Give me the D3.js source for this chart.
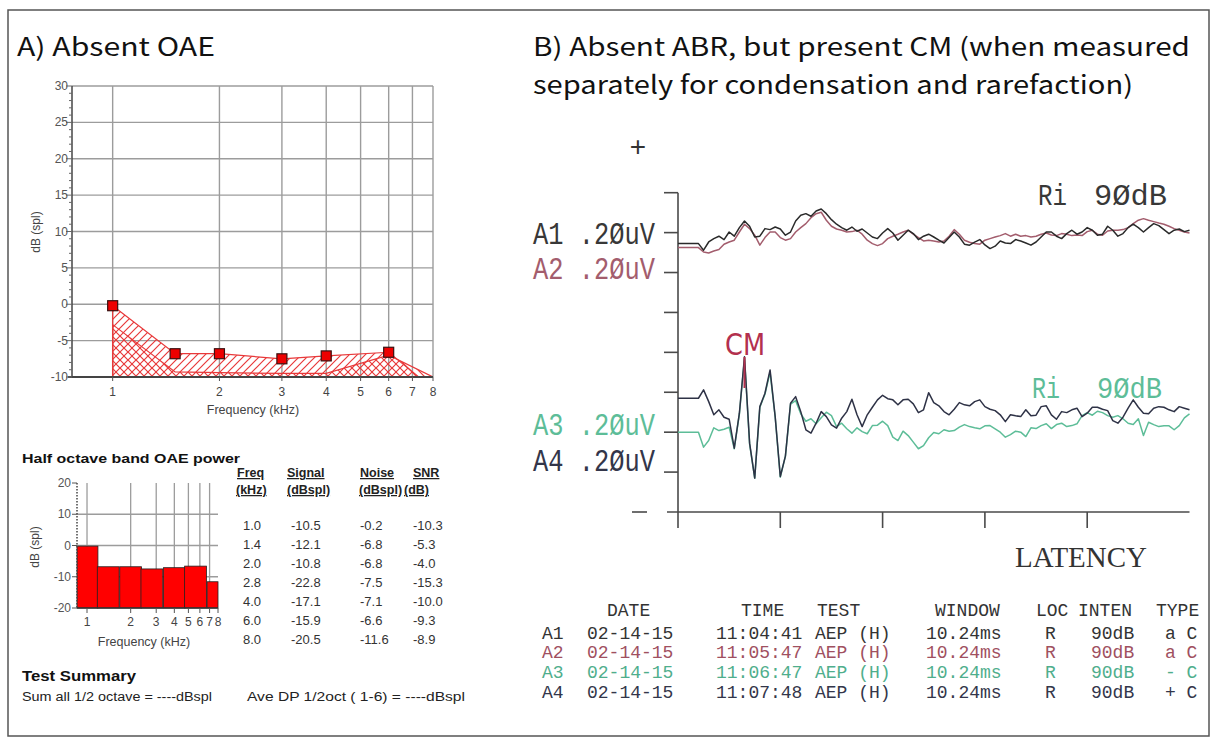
<!DOCTYPE html>
<html>
<head>
<meta charset="utf-8">
<script src="https://cdn.jsdelivr.net/npm/d3@7"></script>
<style>
body{margin:0;background:#fff;overflow:hidden;}
svg{display:block;}
</style>
</head>
<body>
<script>

// ---- A) OAE data ----
var dpFreq   = [1, 1.5, 2, 3, 4, 6, 8];
var dpNoise  = [-0.2, -6.8, -6.8, -7.5, -7.1, -6.6, -11.6];
var dpFloor  = [-2.8, -9.3, -9.4, -9.5, -9.5, -7.0, -10];
var topXTicks = [1, 2, 3, 4, 5, 6, 7, 8];
var topYTicks = [30, 25, 20, 15, 10, 5, 0, -5, -10];

var bandCenter = [1, 1.4, 2, 2.8, 4, 5.6, 8];
var bandNoise  = [-0.2, -6.8, -6.8, -7.5, -7.1, -6.6, -11.6];
var bandXTicks = [1, 2, 3, 4, 5, 6, 7, 8];
var bandYTicks = [20, 10, 0, -10, -20];

var tabFreq   = ["1.0", "1.4", "2.0", "2.8", "4.0", "6.0", "8.0"];
var tabSignal = ["-10.5", "-12.1", "-10.8", "-22.8", "-17.1", "-15.9", "-20.5"];
var tabNoise  = ["-0.2", "-6.8", "-6.8", "-7.5", "-7.1", "-6.6", "-11.6"];
var tabSnr    = ["-10.3", "-5.3", "-4.0", "-15.3", "-10.0", "-9.3", "-8.9"];

// ---- B) ABR traces, uV from each trace baseline, one sample every 0.1024 ms ----
var sampleMs = 0.1024;
var a1 = [0,0,0,0,0, -0.033,0.008,0.025,0.037,0.02, 0.058,0.037,0.08,0.113,0.087, 0.033,0.037,0.075,0.07,0.083,
  0.073,0.042,0.058,0.113,0.142, 0.15,0.137,0.163,0.173,0.15, 0.12,0.097,0.08,0.067,0.083, 0.062,0.073,0.053,0.033,0.025,
  0.053,0.075,0.053,0.017,0.042, 0.067,0.05,0.02,0.037,0.047, 0.033,0.017,0.003,0.03,0.058, 0.033,-0.003,-0.008,0.007,0.02,
  -0.007,-0.025,-0.013,0.013,0.003, 0,0.02,0.013,0.003,-0.008, 0.008,0.033,0.058,0.058,0.037, 0.025,0.05,0.067,0.047,0.058,
  0.08,0.067,0.042,0.047,0.087, 0.067,0.037,0.05,0.08,0.097, 0.08,0.058,0.08,0.1,0.09, 0.07,0.05,0.067,0.073,0.06, 0.067];
var a2 = [0,0,0,0,0, -0.022,-0.027,-0.017,-0.01,0.017, 0.028,0.037,0.078,0.117,0.095, 0.062,0.012,0.05,0.078,0.078,
  0.05,0.037,0.045,0.078,0.1, 0.12,0.15,0.17,0.177,0.137, 0.107,0.093,0.087,0.078,0.08, 0.087,0.067,0.037,0.02,0.01,
  0.02,0.045,0.057,0.067,0.078, 0.087,0.067,0.05,0.033,0.037, 0.033,0.028,0.033,0.057,0.09, 0.067,0.037,0.027,0.02,0.017,
  0.037,0.045,0.053,0.06,0.07, 0.057,0.067,0.057,0.06,0.053, 0.057,0.067,0.073,0.063,0.06, 0.07,0.067,0.06,0.063,0.06,
  0.08,0.087,0.067,0.062,0.083, 0.087,0.087,0.09,0.1,0.12, 0.137,0.145,0.137,0.13,0.123, 0.117,0.107,0.095,0.087,0.078, 0.073];
var a3 = [0,0,0,0,0, -0.075,-0.042,0.022,0.008,0.015, 0.025,-0.083,0.09,0.37,-0.06, -0.23,0.125,0.19,0.30,0.075,
  -0.225,-0.12,0.14,0.158,0.092, 0.055,0.067,0.042,0.072,0.1, 0.083,0.028,0.045,0.017,-0.005, 0.022,0.003,-0.008,0.033,0.035,
  0.055,0.033,-0.025,-0.042,0.005, -0.017,-0.05,-0.083,-0.067,-0.028, -0.002,-0.008,0.012,0.005,0.008, 0.025,0.038,0.028,0.022,0.017,
  0.032,0.033,0.017,0,-0.025, -0.012,0.005,0,-0.022,0.022, 0.018,0.033,0.042,0.018,0.038, 0.045,0.028,0.033,0.042,0.083,
  0.098,0.085,0.105,0.098,0.083, 0.075,0.083,0.067,0.045,0.038, 0.067,-0.017,0.05,0.038,0.028, 0.032,0.032,0.012,0.033,0.072, 0.092];
var a4 = [0,0,0,0,0, 0.042,-0.017,-0.083,-0.058,-0.095, -0.105,-0.25,-0.075,0.208,-0.225, -0.4,-0.042,0.025,0.142,-0.092,
  -0.392,-0.29,-0.025,0.008,-0.067, -0.158,-0.175,-0.125,-0.067,-0.092, -0.133,-0.15,-0.1,-0.067,-0.005, -0.083,-0.142,-0.083,-0.045,-0.008,
  0.015,-0.002,-0.008,-0.033,-0.008, -0.005,-0.028,-0.072,-0.058,0.028, -0.022,-0.038,-0.067,-0.083,-0.055, -0.022,-0.033,-0.038,-0.017,-0.008,
  -0.042,-0.055,-0.062,-0.083,-0.117, -0.083,-0.088,-0.092,-0.058,-0.088, -0.085,-0.042,-0.038,-0.083,-0.105, -0.067,-0.072,-0.058,-0.05,-0.092,
  -0.075,-0.045,-0.045,-0.055,-0.062, -0.112,-0.125,-0.095,-0.05,-0.008, -0.045,-0.075,-0.078,-0.05,-0.042, -0.045,-0.058,-0.067,-0.042,-0.05, -0.058];
var abrYTicks = [0.2, 0.4, 0.6, 0.8, 1.0, 1.2, 1.4, 1.6];
var abrXTicks = [2.048, 4.096, 6.144, 8.192];

var recName   = ["A1", "A2", "A3", "A4"];
var recDate   = ["02-14-15", "02-14-15", "02-14-15", "02-14-15"];
var recTime   = ["11:04:41", "11:05:47", "11:06:47", "11:07:48"];
var recTest   = ["AEP (H)", "AEP (H)", "AEP (H)", "AEP (H)"];
var recWindow = ["10.24ms", "10.24ms", "10.24ms", "10.24ms"];
var recLoc    = ["R", "R", "R", "R"];
var recInten  = ["90dB", "90dB", "90dB", "90dB"];
var recType   = ["a C", "a C", "- C", "+ C"];


var svg = d3.select("body").append("svg").attr("width", 1216).attr("height", 737);
var defs = svg.append("defs");
var sans = "'Liberation Sans', Arial, sans-serif";
var mono = "'Liberation Mono', 'DejaVu Sans Mono', monospace";
var kr = "'Noto Sans CJK KR', 'Noto Sans', sans-serif";
var red = "#e8393a";
var grid = "#9c9c9c";

function txt(x, y, s, o) {
  o = o || {};
  var t = svg.append("text").attr("x", x).attr("y", y)
    .attr("font-family", o.font || sans).attr("font-size", o.size || 12)
    .attr("fill", o.fill || "#333").attr("text-anchor", o.anchor || "start").text(s);
  if (o.bold) t.attr("font-weight", "bold");
  if (o.under) t.attr("text-decoration", "underline");
  if (o.w) t.attr("textLength", o.w).attr("lengthAdjust", "spacingAndGlyphs");
  return t;
}

// plotter lettering: narrow and tall
function plot(x, y, s, fill, w, size, sy) {
  svg.append("text").attr("transform", "translate(" + x + "," + y + ") scale(1," + sy + ")")
    .attr("font-family", mono).attr("font-size", size).attr("fill", fill)
    .attr("textLength", w).attr("lengthAdjust", "spacingAndGlyphs").text(s);
}

function hatch(id, d) {
  var p = defs.append("pattern").attr("id", id).attr("patternUnits", "userSpaceOnUse")
    .attr("width", 8).attr("height", 8);
  p.append("path").attr("d", d).attr("stroke", red).attr("stroke-width", 1.2);
}
hatch("hr", "M0,8 L8,0 M-1,1 L1,-1 M7,9 L9,7");
hatch("hl", "M0,0 L8,8 M-1,7 L1,9 M7,-1 L9,1");

// outer frame
svg.append("rect").attr("x", 8).attr("y", 10).attr("width", 1201).attr("height", 726)
  .attr("fill", "none").attr("stroke", "#555").attr("stroke-width", 1.5);

txt(17, 56, "A) Absent OAE", {font: kr, size: 25, fill: "#111", w: 198});
txt(533, 56, "B) Absent ABR, but present CM (when measured", {font: kr, size: 25, fill: "#111", w: 657});
txt(533, 94, "separately for condensation and rarefaction)", {font: kr, size: 25, fill: "#111", w: 600});


// ================= DP-gram =================
var x1 = d3.scaleLog().domain([0.768, 8]).range([72, 433]);
var y1 = d3.scaleLinear().domain([-10, 30]).range([377, 86]);

svg.selectAll(".vg1").data(topXTicks).enter().append("line")
  .attr("x1", function(d){return x1(d);}).attr("x2", function(d){return x1(d);})
  .attr("y1", y1(30)).attr("y2", y1(-10)).attr("stroke", grid).attr("stroke-width", 1.4);
svg.selectAll(".hg1").data(topYTicks).enter().append("line")
  .attr("x1", x1.range()[0]).attr("x2", x1.range()[1])
  .attr("y1", function(d){return y1(d);}).attr("y2", function(d){return y1(d);})
  .attr("stroke", grid).attr("stroke-width", 1.4);

defs.append("clipPath").attr("id", "c1").append("rect")
  .attr("x", 72).attr("y", 86).attr("width", 361).attr("height", 291);

var pts = dpFreq.map(function(f, i){ return {f: f, v: dpNoise[i], w: dpFloor[i]}; });
var areaN = d3.area().x(function(d){return x1(d.f);}).y0(y1(-10)).y1(function(d){return y1(d.v);});
var areaF = d3.area().x(function(d){return x1(d.f);}).y0(y1(-10)).y1(function(d){return y1(d.w);});
svg.append("path").attr("d", areaN(pts)).attr("fill", "url(#hr)").attr("stroke", red)
  .attr("stroke-width", 1.2).attr("clip-path", "url(#c1)");
svg.append("path").attr("d", areaF(pts)).attr("fill", "url(#hl)").attr("stroke", red)
  .attr("stroke-width", 1.2).attr("clip-path", "url(#c1)");

// axes
svg.append("line").attr("x1", 72).attr("x2", 72).attr("y1", 86).attr("y2", 377).attr("stroke", "#444").attr("stroke-width", 1.5);
svg.append("line").attr("x1", 68).attr("x2", 433).attr("y1", 377).attr("y2", 377).attr("stroke", "#444").attr("stroke-width", 2);
svg.selectAll(".mt1").data(d3.range(-10, 31)).enter().append("line")
  .attr("x1", function(d){return d % 5 == 0 ? 66 : 69;}).attr("x2", 72)
  .attr("y1", function(d){return y1(d);}).attr("y2", function(d){return y1(d);})
  .attr("stroke", "#666").attr("stroke-width", 1);
topYTicks.forEach(function(d){ txt(68, y1(d) + 4, d, {size: 12, fill: "#555", anchor: "end"}); });
topXTicks.forEach(function(d){
  svg.append("line").attr("x1", x1(d)).attr("x2", x1(d)).attr("y1", 377).attr("y2", 381).attr("stroke", "#555");
  txt(x1(d), 396, d, {size: 12, fill: "#444", anchor: "middle"});
});
txt(253, 414, "Frequency (kHz)", {size: 12.5, fill: "#444", anchor: "middle"});
svg.append("text").attr("transform", "translate(40,232) rotate(-90)").attr("text-anchor", "middle")
  .attr("font-family", sans).attr("font-size", 12).attr("fill", "#444").text("dB (spl)");

// squares
svg.selectAll(".sq").data(pts.filter(function(d){return d.v >= -10;})).enter().append("rect")
  .attr("x", function(d){return x1(d.f) - 5;}).attr("y", function(d){return y1(d.v) - 5;})
  .attr("width", 10).attr("height", 10).attr("fill", "#ee0000").attr("stroke", "#3a1010").attr("stroke-width", 1.2);


// ================= half octave bands =================
txt(22, 463, "Half octave band OAE power", {size: 13.5, bold: true, fill: "#111", w: 218});

var x2 = d3.scaleLog().domain([0.853, 8]).range([77, 218]);
var y2 = d3.scaleLinear().domain([-20, 20]).range([608, 483]);

svg.selectAll(".vg2").data(bandXTicks.slice(0, 7)).enter().append("line")
  .attr("x1", function(d){return x2(d);}).attr("x2", function(d){return x2(d);})
  .attr("y1", y2(20)).attr("y2", y2(-20)).attr("stroke", grid).attr("stroke-width", 1.3);
svg.selectAll(".hg2").data([10, 0, -10]).enter().append("line")
  .attr("x1", 77).attr("x2", 218)
  .attr("y1", function(d){return y2(d);}).attr("y2", function(d){return y2(d);})
  .attr("stroke", grid).attr("stroke-width", 1.3);

svg.selectAll(".bar").data(bandCenter).enter().append("rect")
  .attr("x", function(d){return Math.max(x2(d / Math.pow(2, 0.25)), 77);})
  .attr("width", function(d){
    return Math.min(x2(d * Math.pow(2, 0.25)), 218) - Math.max(x2(d / Math.pow(2, 0.25)), 77);
  })
  .attr("y", function(d, i){return y2(bandNoise[i]);})
  .attr("height", function(d, i){return y2(-20) - y2(bandNoise[i]);})
  .attr("fill", "#ff0000").attr("stroke", "#222").attr("stroke-width", 0.8);

svg.append("line").attr("x1", 77).attr("x2", 77).attr("y1", 483).attr("y2", 608)
  .attr("stroke", "#444").attr("stroke-width", 1.5).attr("stroke-dasharray", "1.5,1.5");
svg.append("line").attr("x1", 77).attr("x2", 218).attr("y1", 608).attr("y2", 608).attr("stroke", "#333").attr("stroke-width", 1.5);
bandYTicks.forEach(function(d){
  svg.append("line").attr("x1", 72).attr("x2", 77).attr("y1", y2(d)).attr("y2", y2(d)).attr("stroke", "#555");
  txt(71, y2(d) + 4, d, {size: 12, fill: "#555", anchor: "end"});
});
bandXTicks.forEach(function(d){
  svg.append("line").attr("x1", x2(d)).attr("x2", x2(d)).attr("y1", 608).attr("y2", 613).attr("stroke", "#555");
  txt(x2(d), 626, d, {size: 12, fill: "#444", anchor: "middle"});
});
txt(144, 646, "Frequency (kHz)", {size: 12.5, fill: "#444", anchor: "middle"});
svg.append("text").attr("transform", "translate(39,547) rotate(-90)").attr("text-anchor", "middle")
  .attr("font-family", sans).attr("font-size", 12).attr("fill", "#444").text("dB (spl)");

// table
var hdr = {size: 12.5, bold: true, under: true, fill: "#222"};
txt(237, 477, "Freq", hdr);  txt(236, 494, "(kHz)", hdr);
txt(287, 477, "Signal", hdr); txt(287, 494, "(dBspl)", hdr);
txt(360, 477, "Noise", hdr);  txt(359, 494, "(dBspl)", hdr);
txt(413, 477, "SNR", hdr);    txt(404, 494, "(dB)", hdr);
tabFreq.forEach(function(d, i){
  var y = 530 + i * 19;
  txt(243, y, d, {size: 13});
  txt(291, y, tabSignal[i], {size: 13});
  txt(360, y, tabNoise[i], {size: 13});
  txt(413, y, tabSnr[i], {size: 13});
});

txt(22, 681, "Test Summary", {size: 14, bold: true, fill: "#111", w: 114});
txt(22, 701, "Sum all 1/2 octave = ----dBspl", {size: 12.5, fill: "#222", w: 190});
txt(247, 701, "Ave DP 1/2oct ( 1-6) = ----dBspl", {size: 12.5, fill: "#222", w: 218});


// ================= ABR =================
var xR = d3.scaleLinear().domain([0, 10.24]).range([678, 1189.5]);
var yR = d3.scaleLinear().domain([0, 1.6]).range([512, 192.7]);
var axisC = "#4a4a4a";

svg.append("line").attr("x1", 678).attr("x2", 678).attr("y1", yR(1.6)).attr("y2", 528)
  .attr("stroke", axisC).attr("stroke-width", 1.6);
svg.append("line").attr("x1", 667).attr("x2", xR(10.24)).attr("y1", yR(0)).attr("y2", yR(0))
  .attr("stroke", axisC).attr("stroke-width", 1.6);
svg.selectAll(".yt").data(abrYTicks).enter().append("line")
  .attr("x1", 664).attr("x2", 678)
  .attr("y1", function(d){return yR(d);}).attr("y2", function(d){return yR(d);})
  .attr("stroke", axisC).attr("stroke-width", 1.6);
svg.selectAll(".xt").data(abrXTicks).enter().append("line")
  .attr("x1", function(d){return xR(d);}).attr("x2", function(d){return xR(d);})
  .attr("y1", yR(0)).attr("y2", 528).attr("stroke", axisC).attr("stroke-width", 1.6);
svg.append("line").attr("x1", 632).attr("x2", 647).attr("y1", 512).attr("y2", 512).attr("stroke", axisC).attr("stroke-width", 1.6);
txt(638, 156, "+", {font: mono, size: 28, fill: "#333", anchor: "middle"});

var traces = [
  {v: a2, base: 1.325, c: "#a35d6d"},
  {v: a1, base: 1.345, c: "#2a2a2a"},
  {v: a3, base: 0.40,  c: "#5dbd98"},
  {v: a4, base: 0.57,  c: "#2e3246"}
];
traces.forEach(function(t){
  var line = d3.line().x(function(d, i){return xR(i * sampleMs);}).y(function(d){return yR(t.base + d);});
  svg.append("path").attr("d", line(t.v)).attr("fill", "none").attr("stroke", t.c)
    .attr("stroke-width", 1.5).attr("stroke-linejoin", "round");
});

// CM marker
svg.append("line").attr("x1", xR(13 * sampleMs)).attr("x2", xR(13 * sampleMs))
  .attr("y1", 357).attr("y2", 388).attr("stroke", "#b3304e").attr("stroke-width", 2);
svg.append("text").attr("transform", "translate(725,355) scale(1,1.1)").attr("font-family", "'DejaVu Sans', sans-serif")
  .attr("font-size", 28).attr("fill", "#b3304e")
  .attr("textLength", 40).attr("lengthAdjust", "spacingAndGlyphs").text("CM");

plot(533, 244, "A1 .2ØuV", "#383838", 122, 24, 1.3);
plot(533, 279, "A2 .2ØuV", "#a35d6d", 122, 24, 1.3);
plot(533, 435, "A3 .2ØuV", "#5dbd98", 122, 24, 1.3);
plot(533, 471, "A4 .2ØuV", "#33364a", 122, 24, 1.3);
plot(1038, 205, "Ri", "#383838", 29, 22, 1.3);
plot(1094, 205, "9ØdB", "#383838", 73, 22, 1.3);
plot(1032, 398, "Ri", "#5dbd98", 28, 22, 1.3);
plot(1097, 398, "9ØdB", "#5dbd98", 65, 22, 1.3);

svg.append("text").attr("x", 1015).attr("y", 567).attr("font-family", "'Liberation Serif', serif")
  .attr("font-size", 30).attr("fill", "#333").attr("textLength", 132)
  .attr("lengthAdjust", "spacingAndGlyphs").text("LATENCY");

// record table
var tf = {font: mono, size: 18, fill: "#333"};
[["DATE", 607], ["TIME", 741], ["TEST", 817], ["WINDOW", 935], ["LOC", 1036], ["INTEN", 1078], ["TYPE", 1156]]
  .forEach(function(h){ txt(h[1], 616, h[0], tf); });
var recColor = ["#333", "#a0505f", "#4fae8c", "#33364a"];
var rowY = [639, 658, 678, 698];
recName.forEach(function(n, i){
  var o = {font: mono, size: 18, fill: recColor[i]};
  txt(542, rowY[i], n, o);
  txt(587, rowY[i], recDate[i], o);
  txt(716, rowY[i], recTime[i], o);
  txt(815, rowY[i], recTest[i], o);
  txt(926, rowY[i], recWindow[i], o);
  txt(1045, rowY[i], recLoc[i], o);
  txt(1091, rowY[i], recInten[i], o);
  txt(1165, rowY[i], recType[i], o);
});

</script>
</body>
</html>
